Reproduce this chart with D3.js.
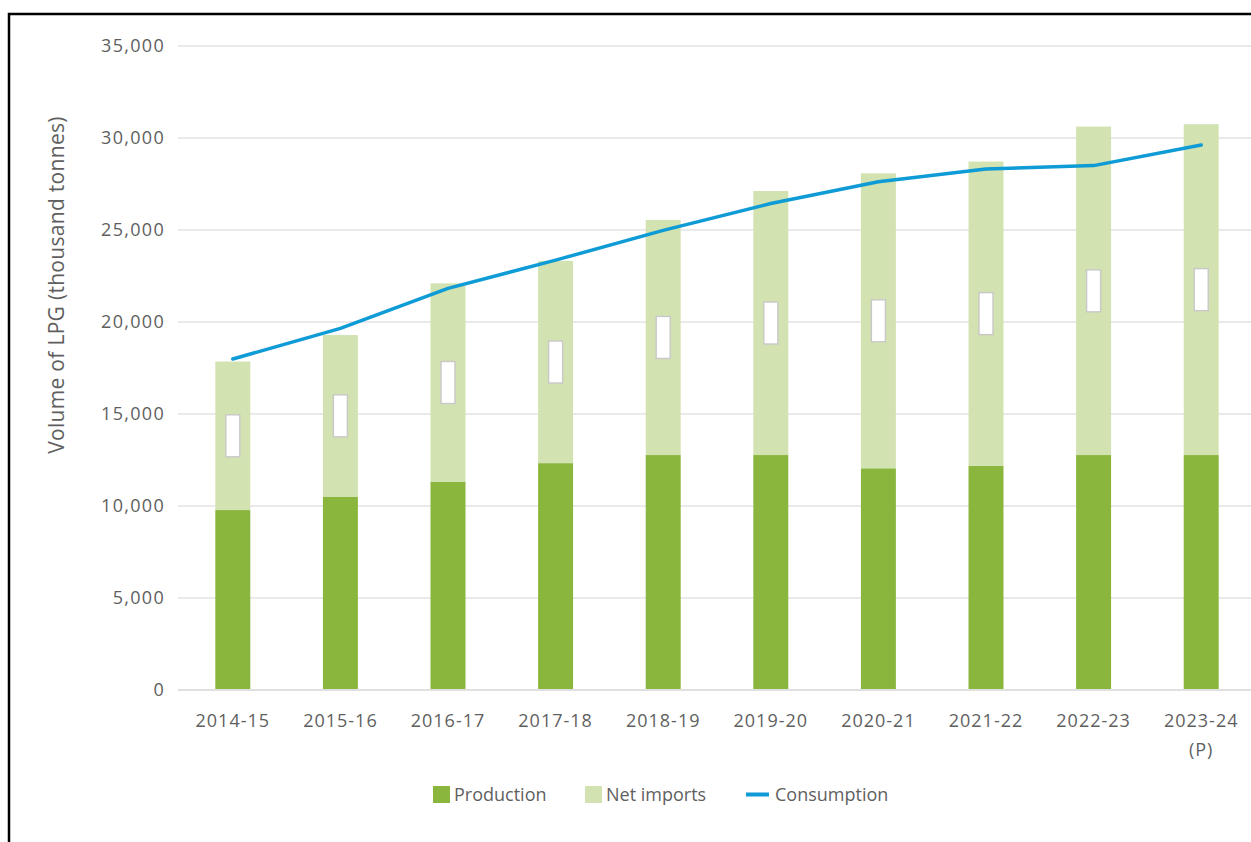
<!DOCTYPE html>
<html>
<head>
<meta charset="utf-8">
<script src="https://cdn.jsdelivr.net/npm/d3@7"></script>
<style>
body { margin: 0; background: #fff; }
svg text { font-family: "Open Sans", sans-serif; fill: #5f5f5f; }
</style>
</head>
<body>
<div id="chart"></div>
<script>
var years = ["2014-15", "2015-16", "2016-17", "2017-18", "2018-19", "2019-20", "2020-21", "2021-22", "2022-23", "2023-24 (P)"];
var production = [9780, 10510, 11320, 12330, 12770, 12770, 12050, 12190, 12770, 12770];
var totals = [17850, 19290, 22100, 23320, 25550, 27120, 28080, 28720, 30620, 30750];
var consumption = [17990, 19650, 21830, 23360, 24980, 26440, 27620, 28310, 28500, 29620];
var yTicks = [0, 5000, 10000, 15000, 20000, 25000, 30000, 35000];
var legendItems = ["Production", "Net imports", "Consumption"];

var width = 1251, height = 842;
var mLeft = 179, mRight = 1255, mTop = 46, mBottom = 690;

var svg = d3.select("#chart").append("svg")
    .attr("width", width)
    .attr("height", height);

// frame
svg.append("rect")
    .attr("x", 9).attr("y", 14)
    .attr("width", 1400).attr("height", 1000)
    .style("fill", "none")
    .style("stroke", "#000")
    .style("stroke-width", 2.5);

var x = d3.scaleBand()
    .domain(years)
    .range([mLeft, mRight])
    .paddingInner(0.675)
    .paddingOuter(0.3375);

var y = d3.scaleLinear()
    .domain([0, 35000])
    .range([mBottom, mTop]);

// gridlines
svg.selectAll(".grid")
    .data(yTicks.filter(function (d) { return d > 0; }))
    .enter()
    .append("line")
    .attr("class", "grid")
    .attr("x1", mLeft - 1).attr("x2", width)
    .attr("y1", function (d) { return y(d); })
    .attr("y2", function (d) { return y(d); })
    .style("stroke", "#e3e3e3")
    .style("stroke-width", 1.5);

var yAxis = d3.axisLeft(y)
    .tickValues(yTicks)
    .tickFormat(d3.format(","))
    .tickSize(0)
    .tickPadding(14);

var gy = svg.append("g")
    .attr("transform", "translate(" + mLeft + ",0)")
    .call(yAxis);
gy.select(".domain").remove();
gy.selectAll("text")
    .style("font-family", "'Open Sans', sans-serif")
    .style("font-size", "18px")
    .style("letter-spacing", "1.3px");

// production bars
svg.selectAll(".prod")
    .data(years)
    .enter()
    .append("rect")
    .attr("class", "prod")
    .attr("x", function (d) { return x(d); })
    .attr("width", x.bandwidth())
    .attr("y", function (d, i) { return y(production[i]); })
    .attr("height", function (d, i) { return y(0) - y(production[i]); })
    .style("fill", "#8bb63d");

// net import bars
svg.selectAll(".imp")
    .data(years)
    .enter()
    .append("rect")
    .attr("class", "imp")
    .attr("x", function (d) { return x(d); })
    .attr("width", x.bandwidth())
    .attr("y", function (d, i) { return y(totals[i]); })
    .attr("height", function (d, i) { return y(production[i]) - y(totals[i]); })
    .style("fill", "#d2e2b1");

// empty data label boxes
svg.selectAll(".lbl")
    .data(years)
    .enter()
    .append("rect")
    .attr("class", "lbl")
    .attr("x", function (d) { return x(d) + x.bandwidth() / 2 - 7; })
    .attr("width", 14)
    .attr("y", function (d, i) { return y((production[i] + totals[i]) / 2) - 21; })
    .attr("height", 42)
    .style("fill", "#fff")
    .style("stroke", "#c8c8c8")
    .style("stroke-width", 1.4);

// baseline
svg.append("line")
    .attr("x1", mLeft - 1).attr("x2", width)
    .attr("y1", y(0)).attr("y2", y(0))
    .style("stroke", "#e0e0e0")
    .style("stroke-width", 2);

// consumption line
var line = d3.line()
    .x(function (d, i) { return x(years[i]) + x.bandwidth() / 2; })
    .y(function (d) { return y(d); });

svg.append("path")
    .datum(consumption)
    .attr("d", line)
    .style("fill", "none")
    .style("stroke", "#0e9bd6")
    .style("stroke-width", 3.5)
    .style("stroke-linecap", "round")
    .style("stroke-linejoin", "round");

// x labels
var xl = svg.selectAll(".xlab")
    .data(years)
    .enter()
    .append("text")
    .attr("class", "xlab")
    .attr("text-anchor", "middle")
    .attr("x", function (d) { return x(d) + x.bandwidth() / 2; })
    .attr("y", 727)
    .style("font-size", "18px")
    .style("letter-spacing", "1px");
xl.each(function (d) {
    var parts = d.split(" ");
    var t = d3.select(this);
    parts.forEach(function (p, k) {
        t.append("tspan")
            .attr("x", t.attr("x"))
            .attr("dy", k == 0 ? 0 : 29)
            .text(p);
    });
});

// y axis title
svg.append("text")
    .attr("transform", "translate(64,285) rotate(-90)")
    .attr("text-anchor", "middle")
    .style("font-size", "21px")
    .style("letter-spacing", "0.3px")
    .text("Volume of LPG (thousand tonnes)");

// legend
var lg = svg.append("g").attr("transform", "translate(433,786)");
lg.append("rect").attr("x", 0).attr("y", 0).attr("width", 17).attr("height", 17).style("fill", "#8bb63d");
lg.append("text").attr("x", 21).attr("y", 15).style("font-size", "18px").text(legendItems[0]);
lg.append("rect").attr("x", 152).attr("y", 0).attr("width", 17).attr("height", 17).style("fill", "#d2e2b1");
lg.append("text").attr("x", 173).attr("y", 15).style("font-size", "18px").text(legendItems[1]);
lg.append("line").attr("x1", 313).attr("x2", 336).attr("y1", 8.5).attr("y2", 8.5)
    .style("stroke", "#0e9bd6").style("stroke-width", 4);
lg.append("text").attr("x", 342).attr("y", 15).style("font-size", "18px").text(legendItems[2]);
</script>
</body>
</html>
